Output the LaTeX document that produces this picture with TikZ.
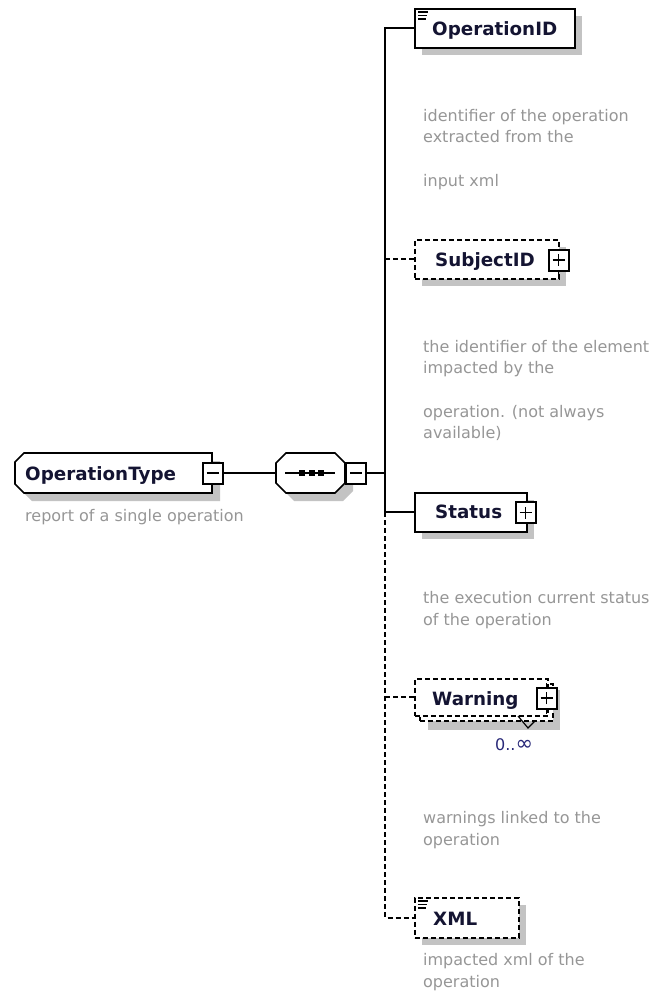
\documentclass[tikz,border=0pt]{standalone}
\usepackage{fontspec}
\setmainfont{DejaVu Sans}
\definecolor{desc}{RGB}{150,150,150}
\definecolor{lab}{RGB}{20,20,50}
\definecolor{occ}{RGB}{40,40,120}
\definecolor{shd}{RGB}{195,195,195}
\tikzset{
 conn/.style={line width=1.8pt},
 dconn/.style={line width=1.8pt, dash pattern=on 5pt off 3pt},
 boxs/.style={draw, line width=1.7pt, fill=white, inner sep=0pt, anchor=north west},
 dboxs/.style={boxs, dash pattern=on 5pt off 3pt},
 lbl/.style={font=\fontsize{18.3}{20}\selectfont\bfseries, text=lab, inner sep=0pt, anchor=base west},
 dsc/.style={font=\fontsize{16}{20}\selectfont, text=desc, inner sep=0pt, anchor=base west},
 pmbox/.style={draw, line width=2pt, fill=white, minimum width=20pt, minimum height=21pt, inner sep=0pt},
 sym/.style={line width=1.6pt},
 icon/.style={line width=1.2pt},
}
\begin{document}
\begin{tikzpicture}[x=1pt,y=-1pt]
\useasboundingbox (0,0) rectangle (654,992);
% ---------- shadows ----------
\fill[shd] (32,461) -- (220,461) -- (220,501) -- (32,501) -- (23,492) -- (23,470) -- cycle;
\fill[shd] (294,461) -- (343,461) -- (353,471) -- (353,491) -- (343,501) -- (294,501) -- (284,491) -- (284,471) -- cycle;
\fill[shd] (422,16) rectangle (582,55);
\fill[shd] (422,247) rectangle (566,286);
\fill[shd] (422,500) rectangle (534,539);
\fill[shd] (428,690) rectangle (560,730);
\fill[shd] (422,905) rectangle (526,945);
% ---------- OperationType ----------
\draw[line width=1.7pt, fill=white] (24,453) -- (212,453) -- (212,493) -- (24,493) -- (15,484) -- (15,462) -- cycle;
\node[inner sep=0pt, minimum width=197pt, minimum height=40pt, anchor=north west] (ot) at (15,453) {};
\node[lbl] (otlbl) at (25,480) {OperationType};
\node[pmbox] (otm) at (212.5,473) {};
\draw[sym] ([xshift=-6pt]otm.center) -- ([xshift=6pt]otm.center);
\node[dsc] (otd) at (25,521) {report of a single operation};
% ---------- sequence compositor ----------
\draw[line width=1.7pt, fill=white] (286,453) -- (335,453) -- (345,463) -- (345,483) -- (335,493) -- (286,493) -- (276,483) -- (276,463) -- cycle;
\node[inner sep=0pt, minimum width=69pt, minimum height=40pt] (seq) at (310.5,473) {};
\draw[sym] (285,473) -- (335,473);
\fill (298.5,470) rectangle (304.5,476);
\fill (308.5,470) rectangle (314.5,476);
\fill (317.5,470) rectangle (323.5,476);
\node[pmbox] (seqm) at (356,473) {};
\draw[sym] ([xshift=-6pt]seqm.center) -- ([xshift=6pt]seqm.center);
\coordinate (spine) at (385,473);
\draw[conn] (otm.east) -- (seq.west);
\draw[conn] (seqm.east) -- (spine);
% ---------- children ----------
\node[boxs, minimum width=160pt, minimum height=39pt] (opid) at (414,8) {};
\draw[icon] (418,12) -- (428,12) (418,15.5) -- (427,15.5) (418,19) -- (426,19);
\node[lbl] (opidl) at (432,36) {OperationID};

\node[dboxs, minimum width=144pt, minimum height=39pt] (subj) at (414,239) {};
\node[lbl] (subjl) at (435,266) {SubjectID};
\node[pmbox] (subjp) at (558.5,260) {};
\draw[sym] ([xshift=-6pt]subjp.center) -- ([xshift=6pt]subjp.center) ([yshift=-6pt]subjp.center) -- ([yshift=6pt]subjp.center);
\draw[line width=1.2pt] (subjp.south) -- ++(0,4);

\node[boxs, minimum width=112pt, minimum height=39pt] (stat) at (414,492) {};
\node[lbl] (statl) at (435,518) {Status};
\node[pmbox] (statp) at (525.5,512.5) {};
\draw[sym] ([xshift=-6pt]statp.center) -- ([xshift=6pt]statp.center) ([yshift=-6pt]statp.center) -- ([yshift=6pt]statp.center);

\node[dboxs, minimum width=133pt, minimum height=37pt] (warnb) at (419,683) {};
\node[dboxs, minimum width=133pt, minimum height=37pt] (warn) at (414,678) {};
\draw[line width=1.2pt] (518,716) -- (528,728) -- (535,721);
\node[lbl] (warnl) at (432,705) {Warning};
\node[pmbox] (warnp) at (546.5,698) {};
\draw[sym] ([xshift=-6pt]warnp.center) -- ([xshift=6pt]warnp.center) ([yshift=-6pt]warnp.center) -- ([yshift=6pt]warnp.center);
\draw[line width=1.2pt] (warnp.south) -- ++(0,4) (warnp.north) -- ++(0,-4);
\node[font=\fontsize{16}{20}\selectfont, text=occ, inner sep=0pt, anchor=base west] (warno) at (495,750) {0..{\fontsize{21}{20}\selectfont ∞}};

\node[dboxs, minimum width=104pt, minimum height=40pt] (xml) at (414,897) {};
\draw[icon] (418,901) -- (428,901) (418,904.5) -- (427,904.5) (418,908) -- (426,908);
\node[lbl] (xmll) at (433,925) {XML};

% ---------- connectors ----------
\draw[conn] (opid.west) -| (spine) |- (stat.west);
\draw[dconn] (stat.west -| spine) |- (xml.west);
\draw[dconn] (subj.west -| spine) -- (subj.west);
\draw[dconn] (warn.west -| spine) -- (warn.west);
% ---------- descriptions ----------
\node[dsc] (d1a) at (423,122) {identifier of the operation};
\node[dsc] (d1b) at (423,143) {extracted from the};
\node[dsc] (d1c) at (423,187) {input xml};
\node[dsc] (d2a) at (423,352) {the identifier of the element};
\node[dsc] (d2b) at (423,373) {impacted by the};
\node[dsc] (d2c) at (423,417) {operation. (not always};
\node[dsc] (d2d) at (423,438) {available)};
\node[dsc] (d3a) at (423,603) {the execution current status};
\node[dsc] (d3b) at (423,625) {of the operation};
\node[dsc] (d4a) at (423,823) {warnings linked to the};
\node[dsc] (d4b) at (423,845) {operation};
\node[dsc] (d5a) at (423,965) {impacted xml of the};
\node[dsc] (d5b) at (423,987) {operation};
\end{tikzpicture}
\end{document}
